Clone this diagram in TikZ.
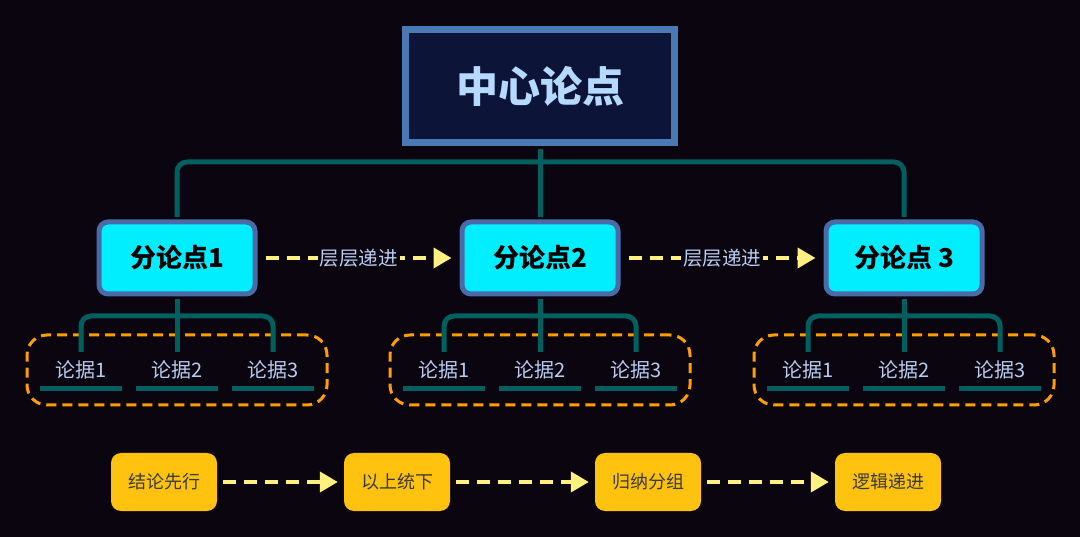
\documentclass[tikz,border=0pt]{standalone}
\usepackage{fontspec}
\setmainfont{Noto Sans CJK SC}
\usetikzlibrary{arrows.meta,positioning}

\definecolor{bg}{RGB}{11,5,16}
\definecolor{mainfill}{RGB}{12,20,56}
\definecolor{mainborder}{RGB}{74,122,181}
\definecolor{maintext}{RGB}{182,218,255}
\definecolor{subfill}{RGB}{0,238,255}
\definecolor{subborder}{RGB}{74,106,168}
\definecolor{trunkc}{RGB}{0,96,96}
\definecolor{groupc}{RGB}{255,158,0}
\definecolor{prooftext}{RGB}{184,204,240}
\definecolor{flowc}{RGB}{255,240,128}
\definecolor{stagefill}{RGB}{255,194,14}
\definecolor{stagetext}{RGB}{58,58,58}

\begin{document}
\begin{tikzpicture}[x=1pt,y=-1pt]
  \tikzset{
  	main/.style={draw=mainborder, line width=7pt, fill=mainfill, text=maintext, minimum width=269pt, minimum height=113pt, font=\fontsize{42}{50}\selectfont\bfseries},
  	sub/.style={draw=subborder, line width=5pt, fill=subfill, text=black, rounded corners=9pt, minimum width=156pt, minimum height=72pt, font=\fontsize{26}{30}\selectfont\bfseries},
  	proof/.style={text=prooftext, minimum width=82pt, minimum height=36pt, inner sep=0pt, font=\fontsize{20}{24}\selectfont},
  	uline/.style={draw=trunkc, line width=5pt},
  	trunk/.style={draw=trunkc, line width=5pt, rounded corners=10pt},
  	group/.style={draw=groupc, line width=3pt, dash pattern=on 10pt off 6pt, rounded corners=20pt, minimum width=300pt, minimum height=70pt},
  	flow/.style={draw=flowc, line width=4pt, dash pattern=on 13pt off 8pt, -{Triangle[length=18pt,width=20pt]}, shorten <=6pt, shorten >=6pt},
  	tag/.style={fill=bg, text=prooftext, inner sep=2pt, font=\fontsize{19.5}{22}\selectfont},
  	stage/.style={fill=stagefill, text=stagetext, rounded corners=10pt, minimum width=106pt, minimum height=58pt, font=\fontsize{18}{22}\selectfont},
  }
  \fill[bg] (0,0) rectangle (1080,537);

  % Main thesis and the three sub-points.
  \node[main] (c) at (540,86) {中心论点};
  \node[sub] (p1) at (177,258) {分论点1};
  \node[sub] (p2) at (540,258) {分论点2};
  \node[sub] (p3) at (904,258) {分论点 3};
  \coordinate (hub) at (540,162); % branch line

  \draw[trunk, shorten <=3.5pt, shorten >=2.5pt] (c) -- (p2);
  \draw[trunk, shorten <=2.5pt, shorten >=2.5pt] (p1.north) |- (hub) -| (p3.north);

  % Arrows between the sub-points.
  \draw[flow, shorten <=8pt, shorten >=8pt] (p1) -- node[tag] {层层递进} (p2);
  \draw[flow, shorten <=8pt, shorten >=8pt] (p2) -- node[tag] {层层递进} (p3);

  % Evidence under sub-point 1.
  \node[group] (g1) at (177,370) {};
  \node[proof] (e11) at (81,370) {论据1};
  \node[proof] (e12) at (177,370) {论据2};
  \node[proof] (e13) at (273,370) {论据3};
  \coordinate (h1) at (177,316);
  \draw[trunk] (e11.north) |- (h1) -| (e13.north);
  \draw[trunk, shorten <=2.5pt] (p1) -- (e12);
  \draw[uline] (e11.south west) -- (e11.south east);
  \draw[uline] (e12.south west) -- (e12.south east);
  \draw[uline] (e13.south west) -- (e13.south east);

  % Evidence under sub-point 2.
  \node[group] (g2) at (540,370) {};
  \node[proof] (e21) at (444,370) {论据1};
  \node[proof] (e22) at (540,370) {论据2};
  \node[proof] (e23) at (636,370) {论据3};
  \coordinate (h2) at (540,316);
  \draw[trunk] (e21.north) |- (h2) -| (e23.north);
  \draw[trunk, shorten <=2.5pt] (p2) -- (e22);
  \draw[uline] (e21.south west) -- (e21.south east);
  \draw[uline] (e22.south west) -- (e22.south east);
  \draw[uline] (e23.south west) -- (e23.south east);

  % Evidence under sub-point 3.
  \node[group] (g3) at (904,370) {};
  \node[proof] (e31) at (808,370) {论据1};
  \node[proof] (e32) at (904,370) {论据2};
  \node[proof] (e33) at (1000,370) {论据3};
  \coordinate (h3) at (904,316);
  \draw[trunk] (e31.north) |- (h3) -| (e33.north);
  \draw[trunk, shorten <=2.5pt] (p3) -- (e32);
  \draw[uline] (e31.south west) -- (e31.south east);
  \draw[uline] (e32.south west) -- (e32.south east);
  \draw[uline] (e33.south west) -- (e33.south east);

  % Bottom row of principles.
  \node[stage] (s1) at (164,482) {结论先行};
  \node[stage] (s2) at (397,482) {以上统下};
  \node[stage] (s3) at (648,482) {归纳分组};
  \node[stage] (s4) at (888,482) {逻辑递进};
  \draw[flow] (s1) -- (s2);
  \draw[flow] (s2) -- (s3);
  \draw[flow] (s3) -- (s4);
\end{tikzpicture}
\end{document}
